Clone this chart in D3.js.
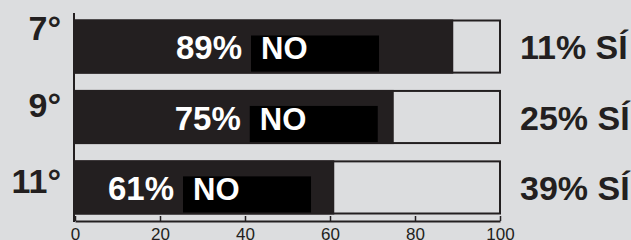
<!DOCTYPE html>
<html>
<head>
<meta charset="utf-8">
<script src="https://cdn.jsdelivr.net/npm/d3@7"></script>
<style>
  html, body { margin: 0; padding: 0; background: #dcdddf; }
  svg { display: block; }
</style>
</head>
<body>
<div id="chart"></div>
<script>
const grades = ["7°", "9°", "11°"];
const noPct = [89, 75, 61];
const siPct = [11, 25, 39];
const xTicks = [0, 20, 40, 60, 80, 100];

const width = 631;
const height = 240;
const dark = "#231f20";

const rows = grades.map((g, i) => ({ grade: g, no: noPct[i], si: siPct[i] }));

// where the "xx%" label ends, in axis units (labels are not centred in the source)
const labelAt = [39.3, 39, 23.3];

const svg = d3.select("#chart")
  .append("svg")
  .attr("width", width)
  .attr("height", height);

svg.append("rect")
  .attr("width", width)
  .attr("height", height)
  .attr("fill", "#dcdddf");

const x = d3.scaleLinear().domain([0, 100]).range([75, 500]);

const y = d3.scaleBand()
  .domain(grades)
  .range([20.5, 213.5])
  .paddingInner(0.26)
  .paddingOuter(0);

// grade labels sit a bit above the bar centres
const yLab = d3.scalePoint().domain(grades).range([27.5, 180.5]);

// outline boxes (0-100)
svg.append("g")
  .selectAll("rect")
  .data(rows)
  .join("rect")
    .attr("x", x(0))
    .attr("y", d => y(d.grade))
    .attr("width", x(100) - x(0))
    .attr("height", y.bandwidth())
    .attr("fill", "#dcdddf")
    .attr("stroke", dark)
    .attr("stroke-width", 2);

// NO bars
svg.append("g")
  .selectAll("rect")
  .data(rows)
  .join("rect")
    .attr("x", x(0))
    .attr("y", d => y(d.grade) - 1)
    .attr("width", d => x(d.no) - x(0))
    .attr("height", y.bandwidth() + 2)
    .attr("fill", dark);

// black boxes behind "NO"
svg.append("g")
  .selectAll("rect")
  .data(rows)
  .join("rect")
    .attr("x", (d, i) => x(labelAt[i]) + 9)
    .attr("y", d => y(d.grade) + 15)
    .attr("width", 128)
    .attr("height", y.bandwidth() - 16)
    .attr("fill", "#000");

const inner = svg.append("g")
  .attr("font-family", "'Liberation Sans', Arial, Helvetica, sans-serif")
  .attr("font-weight", "bold")
  .attr("fill", "#fff");

inner.selectAll("text.pct")
  .data(rows)
  .join("text")
    .attr("class", "pct")
    .attr("x", (d, i) => x(labelAt[i]))
    .attr("y", d => y(d.grade) + y.bandwidth() / 2 + 12.5)
    .attr("text-anchor", "end")
    .attr("font-size", 33)
    .text(d => `${d.no}%`);

inner.selectAll("text.no")
  .data(rows)
  .join("text")
    .attr("class", "no")
    .attr("x", (d, i) => x(labelAt[i]) + 19)
    .attr("y", d => y(d.grade) + y.bandwidth() / 2 + 12.5)
    .attr("font-size", 31)
    .text("NO");

// SÍ labels on the right
svg.append("g")
  .attr("font-family", "'Liberation Sans', Arial, Helvetica, sans-serif")
  .attr("font-weight", "bold")
  .attr("font-size", 34)
  .attr("fill", dark)
  .selectAll("text")
  .data(rows)
  .join("text")
    .attr("x", x(100) + 20)
    .attr("y", d => y(d.grade) + y.bandwidth() / 2 + 12.5)
    .text(d => `${d.si}% SÍ`);

// grade labels on the left
svg.append("g")
  .attr("font-family", "'Liberation Sans', Arial, Helvetica, sans-serif")
  .attr("font-weight", "bold")
  .attr("font-size", 34)
  .attr("fill", dark)
  .attr("text-anchor", "end")
  .selectAll("text")
  .data(grades)
  .join("text")
    .attr("x", 61)
    .attr("y", d => yLab(d) + 12.5)
    .text(d => d);

// y axis line
svg.append("line")
  .attr("x1", x(0) - 1).attr("x2", x(0) - 1)
  .attr("y1", 13).attr("y2", 222)
  .attr("stroke", dark)
  .attr("stroke-width", 2);

// x axis
const xAxis = svg.append("g")
  .attr("transform", "translate(0,221)")
  .call(d3.axisBottom(x)
    .tickValues(xTicks)
    .tickSizeInner(-5)
    .tickSizeOuter(0)
    .tickPadding(7));

xAxis.select(".domain")
  .attr("stroke", dark)
  .attr("stroke-width", 2);
xAxis.selectAll(".tick line")
  .attr("stroke", dark)
  .attr("stroke-width", 1.5);
xAxis.selectAll(".tick text")
  .attr("fill", dark)
  .attr("font-size", 17)
  .attr("font-family", "'Liberation Sans', Arial, Helvetica, sans-serif");
</script>
</body>
</html>
